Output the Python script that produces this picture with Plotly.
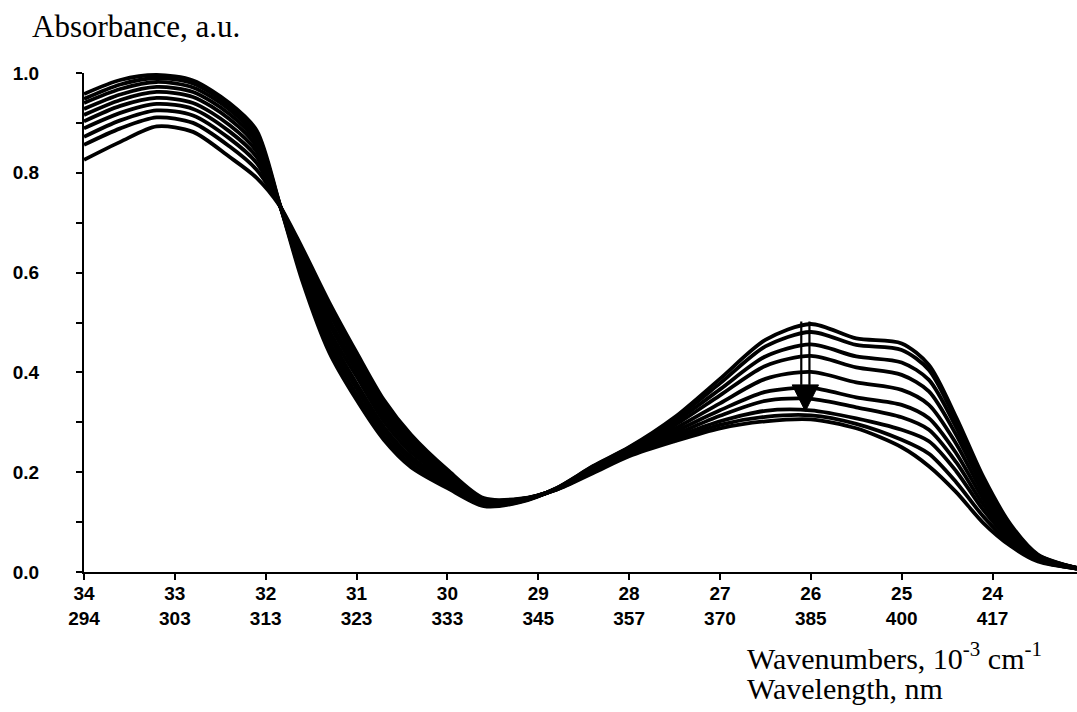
import plotly.graph_objects as go

# Wavenumbers (10^3 cm^-1)
wavenumber = [34.0, 33.6, 33.2, 32.8, 32.4, 32.1, 31.85, 31.6, 31.3, 31.0, 30.7, 30.4, 30.0, 29.6, 29.2,
              28.8, 28.4, 28.0, 27.5, 27.0, 26.5, 26.0, 25.5, 25.0, 24.7, 24.4, 24.1, 23.8, 23.5, 23.07]

# Absorbance spectra (top to bottom at 26 000 cm^-1)
s1 = [0.958, 0.986, 0.996, 0.985, 0.940, 0.885, 0.740, 0.585, 0.440, 0.345, 0.265, 0.210, 0.168, 0.132, 0.140,
      0.168, 0.212, 0.250, 0.310, 0.387, 0.465, 0.497, 0.468, 0.458, 0.415, 0.310, 0.190, 0.095, 0.035, 0.008]
s2 = [0.948, 0.977, 0.990, 0.979, 0.934, 0.878, 0.739, 0.593, 0.452, 0.356, 0.273, 0.216, 0.171, 0.134, 0.141,
      0.168, 0.211, 0.249, 0.306, 0.378, 0.452, 0.481, 0.455, 0.445, 0.405, 0.303, 0.185, 0.092, 0.034, 0.008]
s3 = [0.940, 0.968, 0.982, 0.971, 0.927, 0.870, 0.739, 0.598, 0.461, 0.368, 0.283, 0.224, 0.176, 0.136, 0.142,
      0.167, 0.209, 0.247, 0.300, 0.366, 0.432, 0.456, 0.432, 0.420, 0.385, 0.290, 0.177, 0.088, 0.033, 0.008]
s4 = [0.928, 0.957, 0.972, 0.962, 0.918, 0.862, 0.738, 0.607, 0.474, 0.378, 0.291, 0.231, 0.181, 0.138, 0.143,
      0.167, 0.208, 0.245, 0.294, 0.354, 0.413, 0.433, 0.410, 0.395, 0.362, 0.275, 0.168, 0.083, 0.031, 0.008]
s5 = [0.916, 0.946, 0.962, 0.952, 0.908, 0.853, 0.738, 0.612, 0.483, 0.392, 0.302, 0.240, 0.186, 0.140, 0.144,
      0.167, 0.206, 0.243, 0.287, 0.338, 0.387, 0.401, 0.380, 0.365, 0.335, 0.257, 0.157, 0.078, 0.029, 0.008]
s6 = [0.903, 0.934, 0.950, 0.940, 0.896, 0.843, 0.737, 0.621, 0.496, 0.403, 0.312, 0.248, 0.190, 0.142, 0.144,
      0.166, 0.204, 0.241, 0.281, 0.324, 0.361, 0.369, 0.350, 0.335, 0.308, 0.238, 0.146, 0.073, 0.028, 0.007]
s7 = [0.889, 0.920, 0.938, 0.928, 0.883, 0.832, 0.737, 0.628, 0.505, 0.412, 0.320, 0.254, 0.194, 0.143, 0.145,
      0.166, 0.203, 0.239, 0.275, 0.313, 0.343, 0.347, 0.330, 0.310, 0.285, 0.220, 0.135, 0.068, 0.026, 0.007]
s8 = [0.872, 0.905, 0.925, 0.915, 0.869, 0.820, 0.736, 0.633, 0.518, 0.422, 0.328, 0.261, 0.198, 0.145, 0.146,
      0.166, 0.201, 0.237, 0.270, 0.302, 0.323, 0.324, 0.308, 0.285, 0.262, 0.202, 0.124, 0.063, 0.024, 0.007]
s9 = [0.856, 0.889, 0.911, 0.900, 0.853, 0.806, 0.736, 0.643, 0.527, 0.431, 0.337, 0.268, 0.201, 0.146, 0.146,
      0.165, 0.200, 0.234, 0.266, 0.295, 0.311, 0.314, 0.297, 0.265, 0.237, 0.180, 0.111, 0.057, 0.023, 0.007]
s10 = [0.826, 0.862, 0.893, 0.882, 0.832, 0.790, 0.735, 0.650, 0.540, 0.440, 0.345, 0.275, 0.205, 0.148, 0.147,
       0.165, 0.198, 0.232, 0.262, 0.288, 0.302, 0.306, 0.288, 0.250, 0.212, 0.160, 0.098, 0.052, 0.021, 0.007]
spectra = [s1, s2, s3, s4, s5, s6, s7, s8, s9, s10]

# Axis ticks
x_tick_wavenumbers = [34, 33, 32, 31, 30, 29, 28, 27, 26, 25, 24]
x_tick_wavelengths = ["294", "303", "313", "323", "333", "345", "357", "370", "385", "400", "417"]
y_tick_values = [0.0, 0.2, 0.4, 0.6, 0.8, 1.0]
y_tick_labels = ["0.0", "0.2", "0.4", "0.6", "0.8", "1.0"]

# Arrow (decrease of the 26 000 cm^-1 band)
arrow_x = 26.06
arrow_top = 0.502
arrow_head_base = 0.375
arrow_tip = 0.322

fig = go.Figure()
for s in spectra:
    fig.add_trace(go.Scatter(x=wavenumber, y=s, mode="lines",
                             line=dict(color="black", width=3.8, shape="spline", smoothing=0.8),
                             hoverinfo="skip"))

half_w = 0.145
shaft_off = 0.045
fig.add_shape(type="line", x0=arrow_x - shaft_off, x1=arrow_x - shaft_off, y0=arrow_top, y1=arrow_head_base,
              line=dict(color="black", width=2.2))
fig.add_shape(type="line", x0=arrow_x + shaft_off, x1=arrow_x + shaft_off, y0=arrow_top, y1=arrow_head_base,
              line=dict(color="black", width=2.2))
fig.add_shape(type="path",
              path=f"M {arrow_x - half_w},{arrow_head_base} L {arrow_x + half_w},{arrow_head_base} L {arrow_x},{arrow_tip} Z",
              fillcolor="black", line=dict(color="black", width=1))

tick_font = dict(family="Liberation Sans, Arial, sans-serif", size=19, color="black", weight="bold")
serif = "Liberation Serif, Times New Roman, serif"

fig.update_xaxes(range=[34, 23.07], tickmode="array", tickvals=x_tick_wavenumbers,
                 ticktext=[f"{w}<br>{l}" for w, l in zip(x_tick_wavenumbers, x_tick_wavelengths)],
                 showline=True, linecolor="black", linewidth=2.2, ticks="outside", ticklen=6,
                 tickwidth=2, tickcolor="black", showgrid=False, zeroline=False, tickfont=tick_font,
                 ticklabelstandoff=-3)
fig.update_yaxes(range=[0, 1.0], tickmode="array", tickvals=y_tick_values, ticktext=y_tick_labels,
                 showline=True, linecolor="black", linewidth=2.2, ticks="outside", ticklen=6,
                 tickwidth=2, tickcolor="black", showgrid=False, zeroline=False, tickfont=tick_font,
                 ticklabelstandoff=33,
                 minor=dict(tickmode="linear", tick0=0, dtick=0.1, ticks="outside", ticklen=6,
                            tickwidth=2, tickcolor="black", showgrid=False))

fig.update_layout(
    width=1077, height=712,
    margin=dict(l=84, r=0, t=73, b=140),
    plot_bgcolor="white", paper_bgcolor="white",
    showlegend=False,
    annotations=[
        dict(text="Absorbance, a.u.", xref="paper", yref="paper", x=-0.0544, y=1.094,
             xanchor="left", yanchor="middle", showarrow=False,
             font=dict(family=serif, size=31, color="black")),
        dict(text="Wavenumbers, 10<sup>-3</sup> cm<sup>-1</sup>", xref="paper", yref="paper",
             x=0.6657, y=-0.168, xanchor="left", yanchor="middle", showarrow=False,
             font=dict(family=serif, size=30, color="black")),
        dict(text="Wavelength, nm", xref="paper", yref="paper",
             x=0.6657, y=-0.234, xanchor="left", yanchor="middle", showarrow=False,
             font=dict(family=serif, size=30, color="black")),
    ],
)

fig.write_html("out.html", config={"displayModeBar": False},
               post_script="document.body.style.margin='0';")
